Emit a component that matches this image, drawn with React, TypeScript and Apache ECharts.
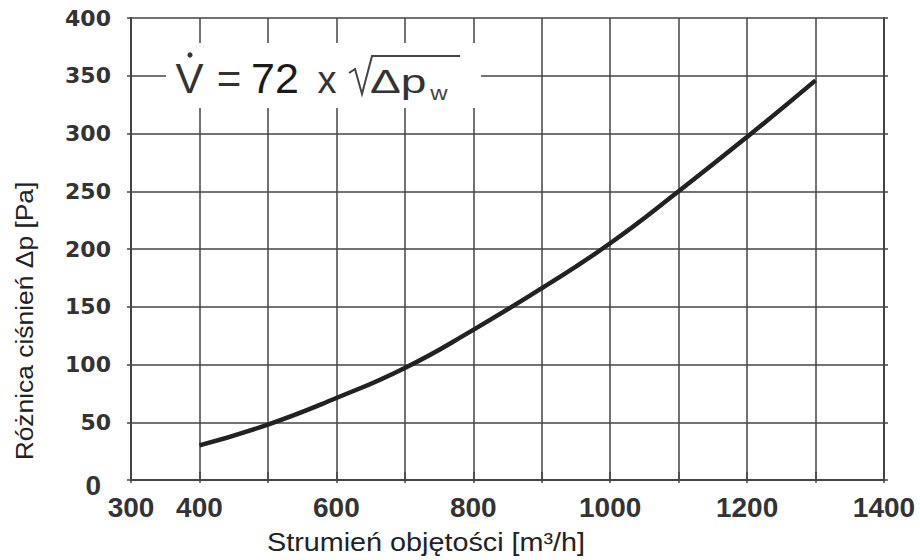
import React, { useEffect, useRef } from "react";
import * as echarts from "echarts";

const flowRates = [400, 500, 600, 700, 800, 900, 1000, 1100, 1200, 1300];
const pressureDiffs = [30, 48, 71, 97, 130, 166, 205, 250, 297, 346];
const xLabelValues = [300, 400, 600, 800, 1000, 1200, 1400];
const xTitle = "Strumień objętości [m³/h]";
const yTitle = "Różnica ciśnień Δp [Pa]";

const GRID = "#444";
const LABEL = "#333";

export default function App() {
  const ref = useRef<HTMLDivElement>(null);
  useEffect(() => {
    if (!ref.current) return;
    const chart = echarts.init(ref.current, null, { renderer: "svg" });
    const sans = "'Liberation Sans', Arial, sans-serif";
    chart.setOption({
      animation: false,
      backgroundColor: "#fff",
      grid: { left: 131, right: 36, top: 18, bottom: 80 },
      xAxis: [
        {
          type: "value",
          min: 300,
          max: 1400,
          interval: 100,
          position: "bottom",
          axisLine: { show: true, lineStyle: { color: GRID, width: 2 } },
          axisTick: { show: true, length: 3, lineStyle: { color: GRID, width: 1.5 } },
          splitLine: { show: true, lineStyle: { color: GRID, width: 1.5 } },
          axisLabel: {
            margin: 13,
            color: LABEL,
            fontFamily: sans,
            fontWeight: "bold",
            fontSize: 28,
            formatter: (v: number) => (xLabelValues.includes(v) ? String(v) : ""),
          },
        },
        {
          type: "value",
          min: 300,
          max: 1400,
          interval: 100,
          position: "top",
          axisLine: { show: true, lineStyle: { color: GRID, width: 2 } },
          axisTick: { show: true, length: 8, lineStyle: { color: GRID, width: 1.5 } },
          splitLine: { show: false },
          axisLabel: { show: false },
        },
      ],
      yAxis: [
        {
          type: "value",
          min: 0,
          max: 400,
          interval: 50,
          position: "left",
          axisLine: { show: true, lineStyle: { color: GRID, width: 2 } },
          axisTick: { show: true, length: 4, lineStyle: { color: GRID, width: 1.5 } },
          splitLine: { show: true, lineStyle: { color: GRID, width: 1.5 } },
          axisLabel: {
            margin: 20,
            color: LABEL,
            fontFamily: "'DejaVu Sans', sans-serif",
            fontWeight: "bold",
            fontSize: 22,
            formatter: (v: number) => (v === 0 ? "{z|0}" : String(v)),
            rich: {
              z: {
                fontFamily: sans,
                fontWeight: "bold",
                fontSize: 28,
                color: LABEL,
                padding: [10, 10, 0, 0],
              },
            },
          },
        },
        {
          type: "value",
          min: 0,
          max: 400,
          interval: 50,
          position: "right",
          axisLine: { show: true, lineStyle: { color: GRID, width: 2 } },
          axisTick: { show: true, length: 4, lineStyle: { color: GRID, width: 1.5 } },
          splitLine: { show: false },
          axisLabel: { show: false },
        },
      ],
      series: [
        {
          type: "line",
          xAxisIndex: 0,
          yAxisIndex: 0,
          data: flowRates.map((x, i) => [x, pressureDiffs[i]]),
          smooth: true,
          showSymbol: false,
          lineStyle: { color: "#222", width: 4.5 },
          z: 5,
        },
      ],
      graphic: [
        {
          type: "rect",
          z: 100,
          shape: { x: 166, y: 43, width: 315, height: 65 },
          style: { fill: "#fff" },
        },
        {
          type: "text",
          z: 101,
          x: 189.5,
          y: 78.5,
          style: { text: "V", font: `42px ${sans}`, fill: "#333", textAlign: "center", textVerticalAlign: "middle" },
        },
        {
          type: "circle",
          z: 101,
          shape: { cx: 190, cy: 55, r: 2.6 },
          style: { fill: "#333" },
        },
        {
          type: "text",
          z: 101,
          x: 229,
          y: 78.5,
          style: { text: "=", font: `42px ${sans}`, fill: "#333", textAlign: "center", textVerticalAlign: "middle" },
        },
        {
          type: "text",
          z: 101,
          x: 275,
          y: 78,
          style: { text: "72", font: `43px ${sans}`, fill: "#1a1a1a", textAlign: "center", textVerticalAlign: "middle" },
        },
        {
          type: "text",
          z: 101,
          x: 327,
          y: 80,
          style: { text: "x", font: `38px ${sans}`, fill: "#333", textAlign: "center", textVerticalAlign: "middle" },
        },
        {
          type: "polyline",
          z: 101,
          shape: { points: [[349, 73], [355, 69], [362, 94], [372, 56], [460, 56]] },
          style: { stroke: "#444", lineWidth: 2, fill: null },
        },
        {
          type: "text",
          z: 101,
          x: 370,
          y: 82,
          scaleX: 1.4,
          style: { text: "Δp", font: `33px ${sans}`, fill: "#333", textAlign: "left", textVerticalAlign: "middle" },
        },
        {
          type: "text",
          z: 101,
          x: 439,
          y: 93,
          scaleX: 1.2,
          style: { text: "w", font: `20px ${sans}`, fill: "#444", textAlign: "center", textVerticalAlign: "middle" },
        },
        {
          type: "text",
          z: 101,
          x: 426,
          y: 543,
          scaleX: 1.15,
          style: { text: xTitle, font: `25px ${sans}`, fill: "#222", textAlign: "center", textVerticalAlign: "middle" },
        },
        {
          type: "text",
          z: 101,
          x: 24,
          y: 321,
          rotation: Math.PI / 2,
          scaleX: 1.1,
          style: { text: yTitle, font: `24px ${sans}`, fill: "#222", textAlign: "center", textVerticalAlign: "middle" },
        },
      ],
    });
    return () => chart.dispose();
  }, []);
  return (
    <div
      ref={ref}
      style={{ position: "fixed", left: 0, top: 0, width: 920, height: 560 }}
    />
  );
}
